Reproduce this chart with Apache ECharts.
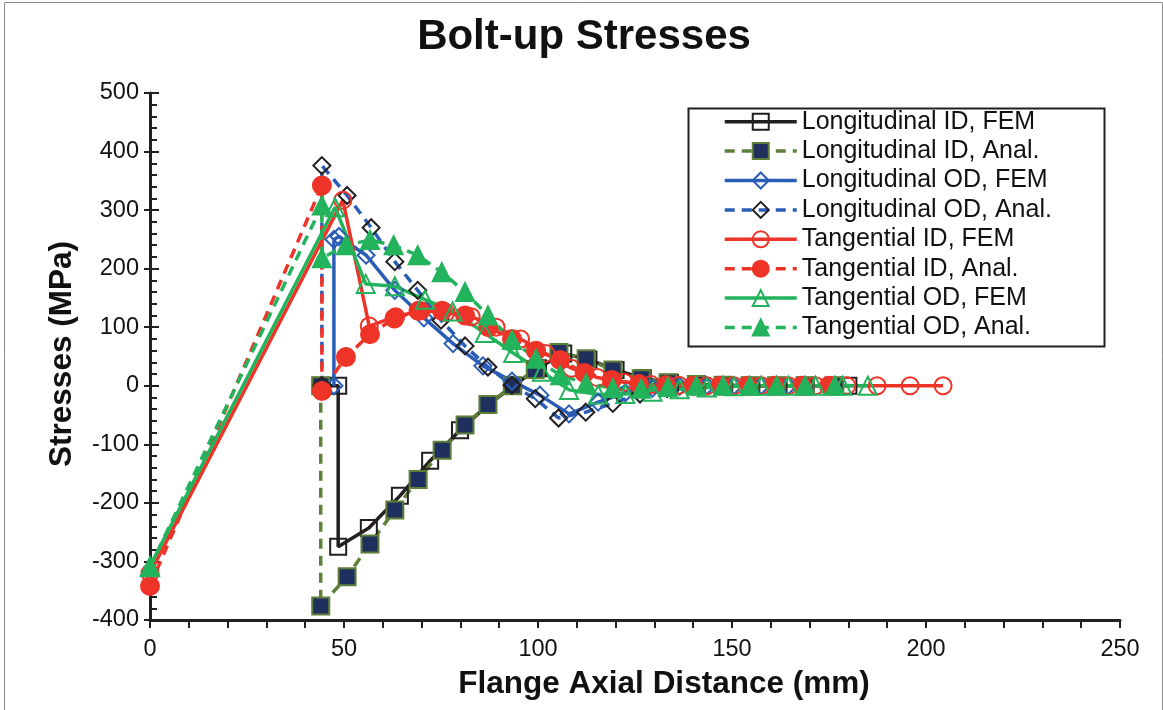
<!DOCTYPE html>
<html>
<head>
<meta charset="utf-8">
<script src="https://cdn.jsdelivr.net/npm/echarts@6/dist/echarts.min.js"></script>
<style>
html,body{margin:0;padding:0;background:#fff;}
#chart{width:1163px;height:710px;}
</style>
</head>
<body>
<div id="chart"></div>
<script>
// ---- Data ----
var seriesNames = [
  'Longitudinal ID, FEM', 'Longitudinal ID, Anal.',
  'Longitudinal OD, FEM', 'Longitudinal OD, Anal.',
  'Tangential ID, FEM', 'Tangential ID, Anal.',
  'Tangential OD, FEM', 'Tangential OD, Anal.'
];

var lidFemX = [44, 48.5, 48.5, 56.4, 64.4, 72.2, 79.9, 87.1, 93.6, 100, 106.5, 113, 120, 127, 134, 141, 148, 155, 162, 169, 176, 180];
var lidFemY = [0, 0, -275, -243, -188, -128, -76, -33, 0, 30, 55, 45, 27, 13, 5, 2, 1, 0, 0, 0, 0, 0];

var lidAnaX = [44, 44, 50.8, 56.7, 63.1, 69.1, 75.3, 81.2, 87.1, 93.4, 99.3, 105.4, 112.4, 119.3, 126.6, 133.5, 140.8, 147.7, 154.6, 161.5, 168.8, 176.5];
var lidAnaY = [0, -376, -326, -270, -212, -160, -110, -67, -32, 0, 28, 57, 46, 27, 12, 5, 2, 1, 0, 0, 0, 0];

var lodFemX = [47.4, 47.4, 48.7, 55.7, 63.1, 70.6, 78.1, 85.8, 93.3, 100.5, 108, 115.5, 122.5, 129.5, 136.5, 143.5, 150.5, 157.5, 164.5];
var lodFemY = [0, 250, 255, 223, 163, 116, 72, 34, 8, -16, -48, -28, -12, -4, -1, 0, 0, 0, 0];

var lodAnaX = [44.3, 44.3, 50.8, 57, 63.1, 69, 75, 81.2, 87.1, 93.3, 99.3, 105.3, 112.3, 119.3, 126.3, 133.3, 140.3, 147.3, 154.3, 161.3, 168.3, 175.3];
var lodAnaY = [0, 376, 325, 270, 212, 163, 112, 68, 32, 1, -22, -55, -45, -30, -14, -5, -1, 0, 0, 0, 0, 0];

var tidFemX = [0, 49.7, 56.5, 63.3, 69.8, 76.3, 82.8, 89.2, 95.5, 102, 108.6, 115.3, 122.2, 129.2, 136.3, 143.5, 150.5, 157.5, 164.5, 171.5, 179.6, 187.4, 195.9, 204.4];
var tidFemY = [-320, 317, 102, 118, 128, 125, 118, 100, 80, 55, 30, 14, 6, 2, 1, 0, 0, 0, 0, 0, 0, 0, 0, 0];

var tidAnaX = [0, 44.3, 44.3, 50.5, 56.7, 63, 69.2, 75.3, 81.2, 87.2, 93.3, 99.5, 105.7, 112, 119, 126, 133, 140, 147, 154, 161, 168, 175];
var tidAnaY = [-342, 342, -9, 49, 88, 115, 128, 128, 120, 100, 80, 60, 44, 22, 10, 3, 1, 0, 0, 0, 0, 0, 0];

var todFemX = [0, 47.7, 55.6, 63.1, 70.9, 78, 86.3, 93.6, 101, 108, 115.5, 122.5, 129.5, 136.5, 143.5, 150.5, 157.5, 164.5, 171.5, 178.5, 185];
var todFemY = [-308, 305, 174, 170, 147, 127, 90, 56, 24, -7, -15, -14, -10, -6, -3, -1, 0, 0, 0, 0, 0];

var todAnaX = [0, 44.3, 44.3, 50.5, 56.7, 62.8, 69, 75.2, 81.2, 87.1, 93.3, 99.5, 105.7, 112.4, 119.3, 126.6, 133.5, 140.8, 147.7, 154.6, 161.5, 168.8, 176.5];
var todAnaY = [-310, 308, 218, 240, 249, 240, 223, 194, 160, 120, 78, 46, 18, 4, -4, -5, -2, 0, 0, 0, 0, 0, 0];

var xTicks = [0, 50, 100, 150, 200, 250];
var yTicks = [-400, -300, -200, -100, 0, 100, 200, 300, 400, 500];

// ---- Build ----
function pts(xs, ys) { return xs.map(function (x, i) { return [x, ys[i]]; }); }

var BLACK = '#231f20', OLIVE = '#5f7f38', NAVY = '#1f2f5e', BLUE = '#2a5db5', RED = '#ee3328', GREEN = '#22b35c';
var DASH = [10, 7];
var NONE = 'rgba(255,255,255,0)';
var LW = 3.5;

function mk(name, xs, ys, lineColor, dashed, symbol, size, fill, border) {
  return {
    name: name, type: 'line', data: pts(xs, ys),
    symbol: symbol, symbolSize: size, showSymbol: true,
    lineStyle: { color: lineColor, width: LW, type: dashed ? DASH : 'solid' },
    itemStyle: { color: fill, borderColor: border, borderWidth: 2 },
    emphasis: { disabled: true }
  };
}

var series = [
  mk(seriesNames[0], lidFemX, lidFemY, BLACK, false, 'rect', 16, NONE, BLACK),
  mk(seriesNames[1], lidAnaX, lidAnaY, OLIVE, true, 'rect', 17, NAVY, OLIVE),
  mk(seriesNames[2], lodFemX, lodFemY, BLUE, false, 'diamond', 17, NONE, BLUE),
  mk(seriesNames[3], lodAnaX, lodAnaY, BLUE, true, 'diamond', 17, NONE, BLACK),
  mk(seriesNames[4], tidFemX, tidFemY, RED, false, 'circle', 17, NONE, RED),
  mk(seriesNames[5], tidAnaX, tidAnaY, RED, true, 'circle', 18, RED, RED),
  mk(seriesNames[6], todFemX, todFemY, GREEN, false, 'triangle', 18, NONE, GREEN),
  mk(seriesNames[7], todAnaX, todAnaY, GREEN, true, 'triangle', 18, GREEN, GREEN)
];

var FONT = '"Liberation Sans", Arial, sans-serif';
var chart = echarts.init(document.getElementById('chart'), null, { renderer: 'canvas' });
chart.setOption({
  animation: false,
  backgroundColor: '#fff',
  grid: { left: 150, right: 43, top: 93, bottom: 90, containLabel: false },
  xAxis: {
    type: 'value', min: xTicks[0], max: xTicks[xTicks.length - 1], interval: xTicks[1] - xTicks[0],
    axisLine: { show: true, onZero: false, lineStyle: { color: BLACK, width: 3 } },
    axisTick: { show: true, inside: false, length: 8, lineStyle: { color: BLACK, width: 2 } },
    minorTick: { show: true, splitNumber: 5, length: 8, lineStyle: { color: BLACK, width: 2 } },
    splitLine: { show: false },
    axisLabel: { color: '#111', fontFamily: FONT, fontSize: 23.5, margin: 18 }
  },
  yAxis: [{
    type: 'value', min: yTicks[0], max: yTicks[yTicks.length - 1], interval: yTicks[1] - yTicks[0],
    axisLine: { show: true, onZero: false, lineStyle: { color: BLACK, width: 3 } },
    axisTick: { show: true, inside: true, length: 9, lineStyle: { color: BLACK, width: 2 } },
    minorTick: { show: true, splitNumber: 5, length: 7, lineStyle: { color: BLACK, width: 2 } },
    splitLine: { show: false },
    axisLabel: { color: '#111', fontFamily: FONT, fontSize: 23.5, margin: 11 }
  }, {
    type: 'value', position: 'left', offset: 0,
    min: yTicks[0], max: yTicks[yTicks.length - 1], interval: yTicks[1] - yTicks[0],
    axisLine: { show: false }, axisLabel: { show: false }, splitLine: { show: false },
    axisTick: { show: true, inside: false, length: 6, lineStyle: { color: BLACK, width: 2 } }
  }],
  legend: {
    orient: 'vertical', left: 723, top: 107, padding: 0,
    itemWidth: 72, itemHeight: 20, itemGap: 0,
    lineStyle: { width: LW },
    textStyle: { fontFamily: FONT, fontSize: 25, color: '#111', lineHeight: 29.4 },
    data: seriesNames
  },
  graphic: [
    { type: 'rect', left: 2, top: 0, silent: true,
      shape: { width: 1158, height: 709 }, style: { fill: 'none', stroke: '#8c8c8c', lineWidth: 1 }, z: -1 },
    { type: 'rect', left: 686, top: 106, silent: true,
      shape: { width: 416, height: 238 }, style: { fill: 'none', stroke: BLACK, lineWidth: 2 } },
    { type: 'text', x: 584, y: 37, silent: true,
      style: { text: 'Bolt-up Stresses', font: 'bold 42px ' + FONT, fill: '#111', textAlign: 'center', textVerticalAlign: 'middle' } },
    { type: 'text', x: 664, y: 684, silent: true,
      style: { text: 'Flange Axial Distance (mm)', font: 'bold 31.5px ' + FONT, fill: '#111', textAlign: 'center', textVerticalAlign: 'middle' } },
    { type: 'text', x: 62, y: 354, rotation: Math.PI / 2, silent: true,
      style: { text: 'Stresses (MPa)', font: 'bold 31.5px ' + FONT, fill: '#111', textAlign: 'center', textVerticalAlign: 'middle' } }
  ],
  series: series
});
</script>
</body>
</html>
